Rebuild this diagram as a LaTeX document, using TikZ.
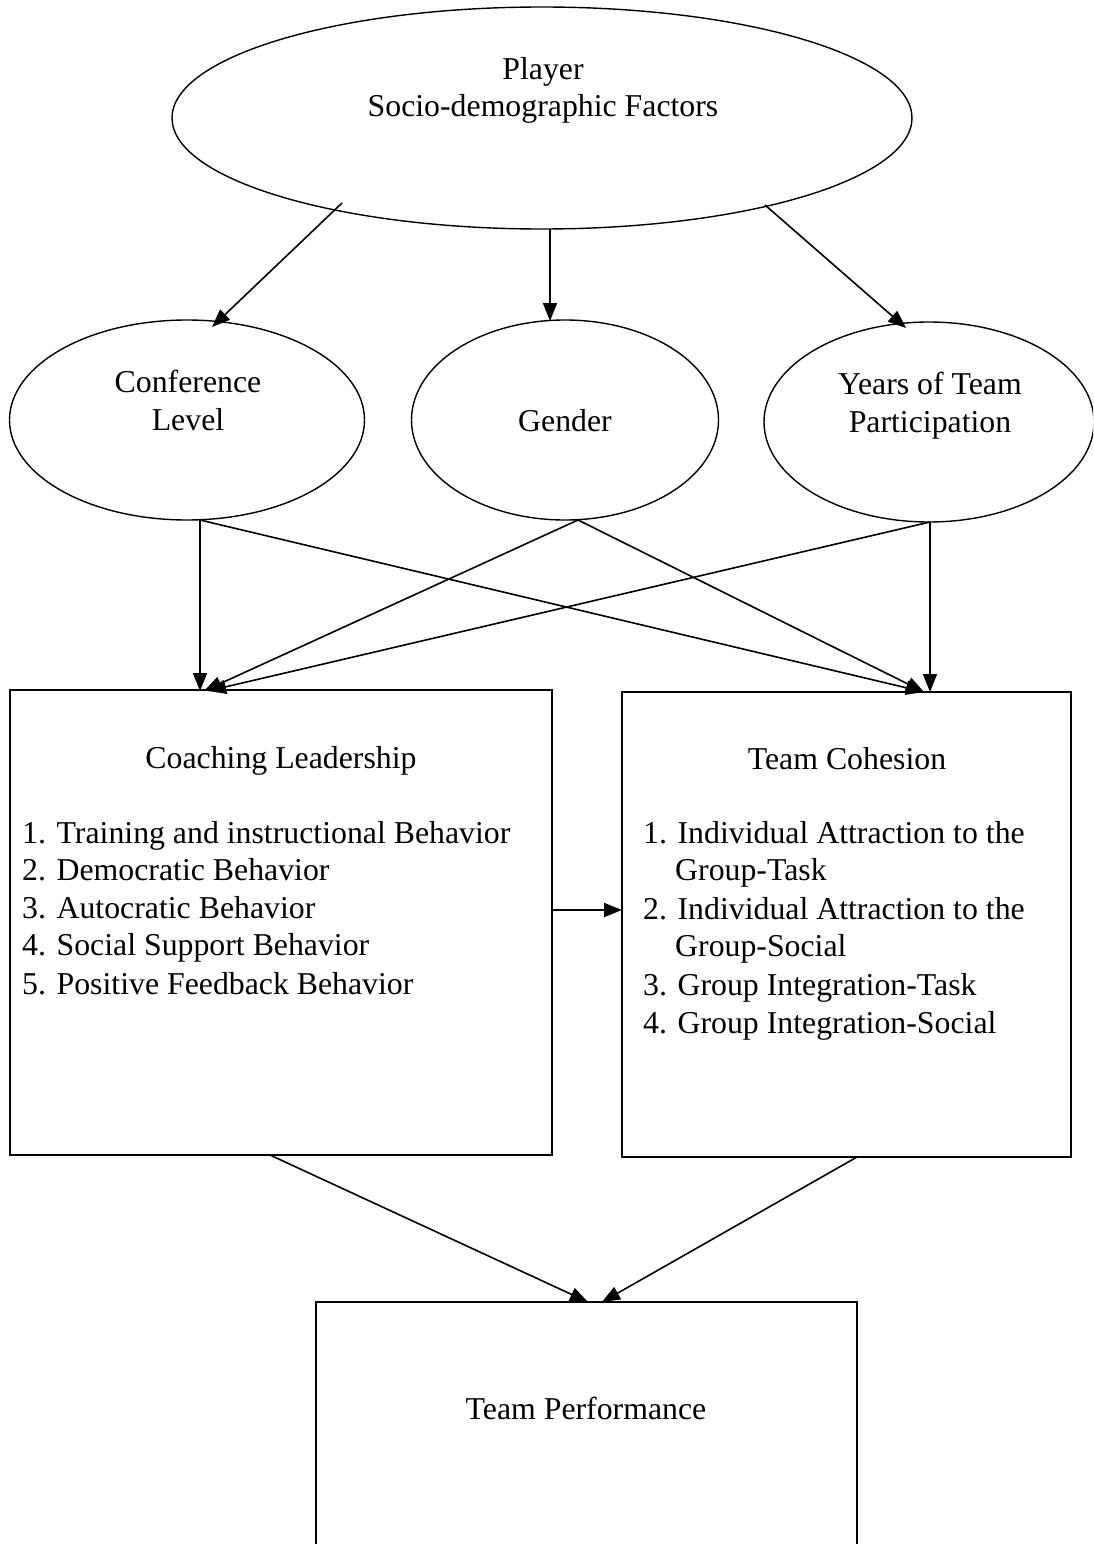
\documentclass[tikz,border=0pt]{standalone}
\usepackage{fontspec}
\setmainfont{Liberation Serif}
\usetikzlibrary{shapes.geometric,arrows.meta}
\begin{document}
\begin{tikzpicture}[x=1pt,y=-1pt,
  shp/.style={draw,line width=1.4pt,inner sep=0pt},
  oval/.style={shp,ellipse},
  arr/.style={line width=1.6pt,-{Triangle[length=18pt,width=14pt]}},
  txt/.style={inner sep=0pt,font=\fontsize{31.8}{36}\selectfont,text height=22pt,text depth=9pt}]
\useasboundingbox (0,0) rectangle (1093,1544);
\clip (0,0) rectangle (1093,1544);
\fill[white] (0,0) rectangle (1093,1544);
% ellipses
\node[oval,minimum width=740pt,minimum height=222pt] (top) at (542,118) {};
\node[oval,minimum width=355pt,minimum height=200pt] (conf) at (187,420) {};
\node[oval,minimum width=307pt,minimum height=200pt] (gend) at (565,420) {};
\node[oval,minimum width=330pt,minimum height=200pt] (years) at (929,422) {};
% boxes
\node[shp,minimum width=542pt,minimum height=465pt] (coach) at (281,922.5) {};
\node[shp,minimum width=449pt,minimum height=465pt] (cohes) at (846.5,924.5) {};
\draw[line width=1.4pt] (316,1570) coordinate (pbl) -- (316,1302) coordinate (ptl) -- (857,1302) coordinate (ptr) -- (857,1570) coordinate (pbr);
% texts
\node[txt] (t1) at (543,73) {Player};
\node[txt] (t2) at (543,110) {Socio-demographic Factors};
\node[txt] (c1) at (188,386) {Conference};
\node[txt] (c2) at (188,424) {Level};
\node[txt] (g1) at (565,425) {Gender};
\node[txt] (y1) at (930,388) {Years of Team};
\node[txt] (y2) at (930,426) {Participation};
\node[txt] (cl) at (281,762) {Coaching Leadership};
\node[txt,anchor=west] (l1) at (22,837) {1. Training and instructional Behavior};
\node[txt,anchor=west] (l2) at (22,874) {2. Democratic Behavior};
\node[txt,anchor=west] (l3) at (22,912) {3. Autocratic Behavior};
\node[txt,anchor=west] (l4) at (22,949) {4. Social Support Behavior};
\node[txt,anchor=west] (l5) at (22,988) {5. Positive Feedback Behavior};
\node[txt] (tc) at (847,763) {Team Cohesion};
\node[txt,anchor=west] (m1) at (643,837) {1. Individual Attraction to the};
\node[txt,anchor=west] (m1b) at (675,874) {Group-Task};
\node[txt,anchor=west] (m2) at (643,913) {2. Individual Attraction to the};
\node[txt,anchor=west] (m2b) at (675,950) {Group-Social};
\node[txt,anchor=west] (m3) at (643,989) {3. Group Integration-Task};
\node[txt,anchor=west] (m4) at (643,1027) {4. Group Integration-Social};
\node[txt] (tp) at (586,1413) {Team Performance};
% connector points
\coordinate (a1s) at (342,203);
\coordinate (a1e) at (212,327);
\coordinate (a2s) at (550,229);
\coordinate (a2e) at (550,321);
\coordinate (a3s) at (765,205);
\coordinate (a3e) at (906,328);
\coordinate (cb) at (200,520);
\coordinate (gb) at (578,520);
\coordinate (yb) at (930,522);
\coordinate (coachin) at (204,691);
\coordinate (cohin) at (924,692);
\coordinate (hs) at (552,910);
\coordinate (he) at (622,910);
\coordinate (coachbot) at (270,1155);
\coordinate (cohbot) at (857,1157);
\coordinate (p1) at (588,1302);
\coordinate (p2) at (602,1302);
% arrows
\draw[arr] (a1s) -- (a1e);
\draw[arr] (a2s) -- (a2e);
\draw[arr] (a3s) -- (a3e);
\draw[arr] (cb) -- (200,691);
\draw[arr] (cb) -- (cohin);
\draw[arr] (gb) -- (coachin);
\draw[arr] (gb) -- (cohin);
\draw[arr] (yb) -- (208,691);
\draw[arr] (yb) -- (930,692);
\draw[arr] (hs) -- (he);
\draw[arr] (coachbot) -- (p1);
\draw[arr] (cohbot) -- (p2);
\end{tikzpicture}
\end{document}
